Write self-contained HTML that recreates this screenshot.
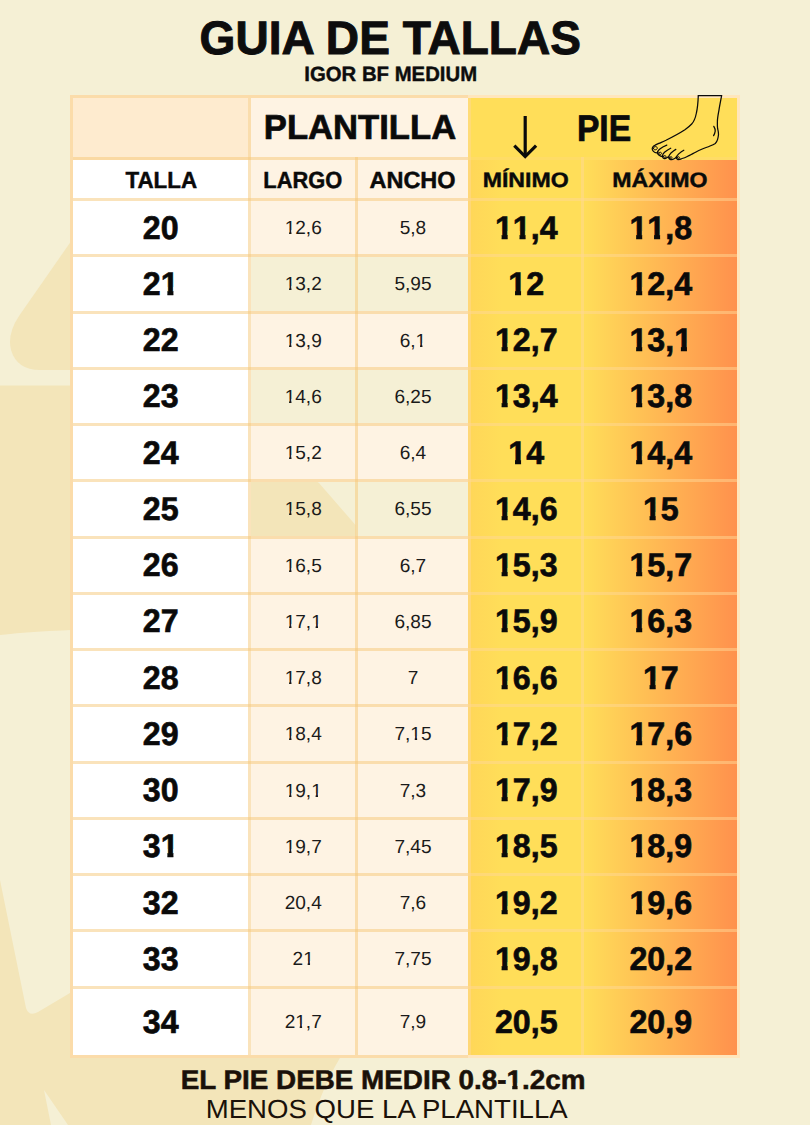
<!DOCTYPE html>
<html><head><meta charset="utf-8"><title>Guia de tallas</title>
<style>
html,body{margin:0;padding:0}
body{width:810px;height:1125px;position:relative;overflow:hidden;background:#f5f0d5;font-family:"Liberation Sans",sans-serif;}
.c{position:absolute}
.t{position:absolute;left:0;white-space:pre;line-height:1;transform-origin:0 0;text-rendering:geometricPrecision;font-family:"Liberation Sans",sans-serif;}
.b{font-weight:700;-webkit-text-stroke:0.02em currentColor}.r{font-weight:400}.n{font-kerning:none}.t i{font-style:normal;display:inline-block}.r i{clip-path:polygon(-5% -5%,105% -5%,105% 58%,64.5% 58%,64.5% 120%,41.8% 120%,41.8% 58%,-5% 58%)}.b i{clip-path:polygon(-5% -5%,105% -5%,105% 58%,71.2% 58%,71.2% 120%,37.4% 120%,37.4% 58%,-5% 58%)}
</style></head><body>
<svg class="c" style="left:0;top:0" width="810" height="1125" viewBox="0 0 810 1125">
<g fill="#f3e5b9">
<path d="M74 237 L19 316 Q7 334 11 350 Q17 370 40 370 L240 370 L240 237 Z"/>
<path d="M0 385.5 L205 385.5 L245 428 L319 483 L355.5 525 L355.5 600 L240 626 Q60 628 0 635 Z"/>
<path d="M0 880 L26 1008 Q29 1017 38 1012 L75 990 L345 1050 Q325 1080 311 1125 L68 1125 L44 1090 L51 1125 L0 1125 Z"/>

</g></svg>
<div class="c" style="left:73.00px;top:98.00px;width:178.00px;height:62.00px;background:#feebcf"></div>
<div class="c" style="left:248.00px;top:98.00px;width:219.50px;height:62.00px;background:#fef3e3"></div>
<div class="c" style="left:467.50px;top:98.00px;width:269.50px;height:62.00px;background:#ffde59"></div>
<div class="c" style="left:73.00px;top:160.00px;width:178.00px;height:41.00px;background:#ffffff"></div>
<div class="c" style="left:251.00px;top:160.00px;width:216.50px;height:41.00px;background:#fef3e3"></div>
<div class="c" style="left:467.50px;top:160.00px;width:115.00px;height:41.00px;background:linear-gradient(90deg,#ffd658 0%,#ffde59 30%,#ffde59 100%)"></div>
<div class="c" style="left:582.50px;top:160.00px;width:154.50px;height:41.00px;background:linear-gradient(90deg,#ffde59 0%,#ff914d 100%)"></div>
<div class="c" style="left:73.00px;top:198.00px;width:178.00px;height:59.25px;background:#ffffff"></div>
<div class="c" style="left:251.00px;top:198.00px;width:216.50px;height:59.25px;background:#fef3e3"></div>
<div class="c" style="left:467.50px;top:198.00px;width:115.00px;height:59.25px;background:linear-gradient(90deg,#ffd658 0%,#ffde59 30%,#ffde59 100%)"></div>
<div class="c" style="left:582.50px;top:198.00px;width:154.50px;height:59.25px;background:linear-gradient(90deg,#ffde59 0%,#ff914d 100%)"></div>
<div class="c" style="left:73.00px;top:254.25px;width:178.00px;height:59.25px;background:#ffffff"></div>
<div class="c" style="left:467.50px;top:254.25px;width:115.00px;height:59.25px;background:linear-gradient(90deg,#ffd658 0%,#ffde59 30%,#ffde59 100%)"></div>
<div class="c" style="left:582.50px;top:254.25px;width:154.50px;height:59.25px;background:linear-gradient(90deg,#ffde59 0%,#ff914d 100%)"></div>
<div class="c" style="left:73.00px;top:310.50px;width:178.00px;height:59.25px;background:#ffffff"></div>
<div class="c" style="left:251.00px;top:310.50px;width:216.50px;height:59.25px;background:#fef3e3"></div>
<div class="c" style="left:467.50px;top:310.50px;width:115.00px;height:59.25px;background:linear-gradient(90deg,#ffd658 0%,#ffde59 30%,#ffde59 100%)"></div>
<div class="c" style="left:582.50px;top:310.50px;width:154.50px;height:59.25px;background:linear-gradient(90deg,#ffde59 0%,#ff914d 100%)"></div>
<div class="c" style="left:73.00px;top:366.75px;width:178.00px;height:59.25px;background:#ffffff"></div>
<div class="c" style="left:467.50px;top:366.75px;width:115.00px;height:59.25px;background:linear-gradient(90deg,#ffd658 0%,#ffde59 30%,#ffde59 100%)"></div>
<div class="c" style="left:582.50px;top:366.75px;width:154.50px;height:59.25px;background:linear-gradient(90deg,#ffde59 0%,#ff914d 100%)"></div>
<div class="c" style="left:73.00px;top:423.00px;width:178.00px;height:59.25px;background:#ffffff"></div>
<div class="c" style="left:251.00px;top:423.00px;width:216.50px;height:59.25px;background:#fef3e3"></div>
<div class="c" style="left:467.50px;top:423.00px;width:115.00px;height:59.25px;background:linear-gradient(90deg,#ffd658 0%,#ffde59 30%,#ffde59 100%)"></div>
<div class="c" style="left:582.50px;top:423.00px;width:154.50px;height:59.25px;background:linear-gradient(90deg,#ffde59 0%,#ff914d 100%)"></div>
<div class="c" style="left:73.00px;top:479.25px;width:178.00px;height:59.25px;background:#ffffff"></div>
<div class="c" style="left:467.50px;top:479.25px;width:115.00px;height:59.25px;background:linear-gradient(90deg,#ffd658 0%,#ffde59 30%,#ffde59 100%)"></div>
<div class="c" style="left:582.50px;top:479.25px;width:154.50px;height:59.25px;background:linear-gradient(90deg,#ffde59 0%,#ff914d 100%)"></div>
<div class="c" style="left:73.00px;top:535.50px;width:178.00px;height:59.25px;background:#ffffff"></div>
<div class="c" style="left:251.00px;top:535.50px;width:216.50px;height:59.25px;background:#fef3e3"></div>
<div class="c" style="left:467.50px;top:535.50px;width:115.00px;height:59.25px;background:linear-gradient(90deg,#ffd658 0%,#ffde59 30%,#ffde59 100%)"></div>
<div class="c" style="left:582.50px;top:535.50px;width:154.50px;height:59.25px;background:linear-gradient(90deg,#ffde59 0%,#ff914d 100%)"></div>
<div class="c" style="left:73.00px;top:591.75px;width:178.00px;height:59.25px;background:#ffffff"></div>
<div class="c" style="left:251.00px;top:591.75px;width:216.50px;height:59.25px;background:#fef3e3"></div>
<div class="c" style="left:467.50px;top:591.75px;width:115.00px;height:59.25px;background:linear-gradient(90deg,#ffd658 0%,#ffde59 30%,#ffde59 100%)"></div>
<div class="c" style="left:582.50px;top:591.75px;width:154.50px;height:59.25px;background:linear-gradient(90deg,#ffde59 0%,#ff914d 100%)"></div>
<div class="c" style="left:73.00px;top:648.00px;width:178.00px;height:59.25px;background:#ffffff"></div>
<div class="c" style="left:251.00px;top:648.00px;width:216.50px;height:59.25px;background:#fef3e3"></div>
<div class="c" style="left:467.50px;top:648.00px;width:115.00px;height:59.25px;background:linear-gradient(90deg,#ffd658 0%,#ffde59 30%,#ffde59 100%)"></div>
<div class="c" style="left:582.50px;top:648.00px;width:154.50px;height:59.25px;background:linear-gradient(90deg,#ffde59 0%,#ff914d 100%)"></div>
<div class="c" style="left:73.00px;top:704.25px;width:178.00px;height:59.25px;background:#ffffff"></div>
<div class="c" style="left:251.00px;top:704.25px;width:216.50px;height:59.25px;background:#fef3e3"></div>
<div class="c" style="left:467.50px;top:704.25px;width:115.00px;height:59.25px;background:linear-gradient(90deg,#ffd658 0%,#ffde59 30%,#ffde59 100%)"></div>
<div class="c" style="left:582.50px;top:704.25px;width:154.50px;height:59.25px;background:linear-gradient(90deg,#ffde59 0%,#ff914d 100%)"></div>
<div class="c" style="left:73.00px;top:760.50px;width:178.00px;height:59.25px;background:#ffffff"></div>
<div class="c" style="left:251.00px;top:760.50px;width:216.50px;height:59.25px;background:#fef3e3"></div>
<div class="c" style="left:467.50px;top:760.50px;width:115.00px;height:59.25px;background:linear-gradient(90deg,#ffd658 0%,#ffde59 30%,#ffde59 100%)"></div>
<div class="c" style="left:582.50px;top:760.50px;width:154.50px;height:59.25px;background:linear-gradient(90deg,#ffde59 0%,#ff914d 100%)"></div>
<div class="c" style="left:73.00px;top:816.75px;width:178.00px;height:59.25px;background:#ffffff"></div>
<div class="c" style="left:251.00px;top:816.75px;width:216.50px;height:59.25px;background:#fef3e3"></div>
<div class="c" style="left:467.50px;top:816.75px;width:115.00px;height:59.25px;background:linear-gradient(90deg,#ffd658 0%,#ffde59 30%,#ffde59 100%)"></div>
<div class="c" style="left:582.50px;top:816.75px;width:154.50px;height:59.25px;background:linear-gradient(90deg,#ffde59 0%,#ff914d 100%)"></div>
<div class="c" style="left:73.00px;top:873.00px;width:178.00px;height:59.25px;background:#ffffff"></div>
<div class="c" style="left:251.00px;top:873.00px;width:216.50px;height:59.25px;background:#fef3e3"></div>
<div class="c" style="left:467.50px;top:873.00px;width:115.00px;height:59.25px;background:linear-gradient(90deg,#ffd658 0%,#ffde59 30%,#ffde59 100%)"></div>
<div class="c" style="left:582.50px;top:873.00px;width:154.50px;height:59.25px;background:linear-gradient(90deg,#ffde59 0%,#ff914d 100%)"></div>
<div class="c" style="left:73.00px;top:929.25px;width:178.00px;height:59.25px;background:#ffffff"></div>
<div class="c" style="left:251.00px;top:929.25px;width:216.50px;height:59.25px;background:#fef3e3"></div>
<div class="c" style="left:467.50px;top:929.25px;width:115.00px;height:59.25px;background:linear-gradient(90deg,#ffd658 0%,#ffde59 30%,#ffde59 100%)"></div>
<div class="c" style="left:582.50px;top:929.25px;width:154.50px;height:59.25px;background:linear-gradient(90deg,#ffde59 0%,#ff914d 100%)"></div>
<div class="c" style="left:73.00px;top:985.50px;width:178.00px;height:69.50px;background:#ffffff"></div>
<div class="c" style="left:251.00px;top:985.50px;width:216.50px;height:69.50px;background:#fef3e3"></div>
<div class="c" style="left:467.50px;top:985.50px;width:115.00px;height:69.50px;background:linear-gradient(90deg,#ffd658 0%,#ffde59 30%,#ffde59 100%)"></div>
<div class="c" style="left:582.50px;top:985.50px;width:154.50px;height:69.50px;background:linear-gradient(90deg,#ffde59 0%,#ff914d 100%)"></div>
<div class="c" style="left:73.00px;top:157.00px;width:394.50px;height:3.00px;background:rgba(246,200,120,0.5)"></div>
<div class="c" style="left:467.50px;top:157.00px;width:269.50px;height:3.00px;background:rgba(255,215,150,0.22)"></div>
<div class="c" style="left:73.00px;top:198.00px;width:394.50px;height:3.00px;background:rgba(246,200,120,0.5)"></div>
<div class="c" style="left:467.50px;top:198.00px;width:269.50px;height:3.00px;background:rgba(255,215,150,0.5)"></div>
<div class="c" style="left:73.00px;top:254.25px;width:394.50px;height:3.00px;background:rgba(246,200,120,0.5)"></div>
<div class="c" style="left:467.50px;top:254.25px;width:269.50px;height:3.00px;background:rgba(255,215,150,0.5)"></div>
<div class="c" style="left:73.00px;top:310.50px;width:394.50px;height:3.00px;background:rgba(246,200,120,0.5)"></div>
<div class="c" style="left:467.50px;top:310.50px;width:269.50px;height:3.00px;background:rgba(255,215,150,0.5)"></div>
<div class="c" style="left:73.00px;top:366.75px;width:394.50px;height:3.00px;background:rgba(246,200,120,0.5)"></div>
<div class="c" style="left:467.50px;top:366.75px;width:269.50px;height:3.00px;background:rgba(255,215,150,0.5)"></div>
<div class="c" style="left:73.00px;top:423.00px;width:394.50px;height:3.00px;background:rgba(246,200,120,0.5)"></div>
<div class="c" style="left:467.50px;top:423.00px;width:269.50px;height:3.00px;background:rgba(255,215,150,0.5)"></div>
<div class="c" style="left:73.00px;top:479.25px;width:394.50px;height:3.00px;background:rgba(246,200,120,0.5)"></div>
<div class="c" style="left:467.50px;top:479.25px;width:269.50px;height:3.00px;background:rgba(255,215,150,0.5)"></div>
<div class="c" style="left:73.00px;top:535.50px;width:394.50px;height:3.00px;background:rgba(246,200,120,0.5)"></div>
<div class="c" style="left:467.50px;top:535.50px;width:269.50px;height:3.00px;background:rgba(255,215,150,0.5)"></div>
<div class="c" style="left:73.00px;top:591.75px;width:394.50px;height:3.00px;background:rgba(246,200,120,0.5)"></div>
<div class="c" style="left:467.50px;top:591.75px;width:269.50px;height:3.00px;background:rgba(255,215,150,0.5)"></div>
<div class="c" style="left:73.00px;top:648.00px;width:394.50px;height:3.00px;background:rgba(246,200,120,0.5)"></div>
<div class="c" style="left:467.50px;top:648.00px;width:269.50px;height:3.00px;background:rgba(255,215,150,0.5)"></div>
<div class="c" style="left:73.00px;top:704.25px;width:394.50px;height:3.00px;background:rgba(246,200,120,0.5)"></div>
<div class="c" style="left:467.50px;top:704.25px;width:269.50px;height:3.00px;background:rgba(255,215,150,0.5)"></div>
<div class="c" style="left:73.00px;top:760.50px;width:394.50px;height:3.00px;background:rgba(246,200,120,0.5)"></div>
<div class="c" style="left:467.50px;top:760.50px;width:269.50px;height:3.00px;background:rgba(255,215,150,0.5)"></div>
<div class="c" style="left:73.00px;top:816.75px;width:394.50px;height:3.00px;background:rgba(246,200,120,0.5)"></div>
<div class="c" style="left:467.50px;top:816.75px;width:269.50px;height:3.00px;background:rgba(255,215,150,0.5)"></div>
<div class="c" style="left:73.00px;top:873.00px;width:394.50px;height:3.00px;background:rgba(246,200,120,0.5)"></div>
<div class="c" style="left:467.50px;top:873.00px;width:269.50px;height:3.00px;background:rgba(255,215,150,0.5)"></div>
<div class="c" style="left:73.00px;top:929.25px;width:394.50px;height:3.00px;background:rgba(246,200,120,0.5)"></div>
<div class="c" style="left:467.50px;top:929.25px;width:269.50px;height:3.00px;background:rgba(255,215,150,0.5)"></div>
<div class="c" style="left:73.00px;top:985.50px;width:394.50px;height:3.00px;background:rgba(246,200,120,0.5)"></div>
<div class="c" style="left:467.50px;top:985.50px;width:269.50px;height:3.00px;background:rgba(255,215,150,0.5)"></div>
<div class="c" style="left:248.00px;top:98.00px;width:3.00px;height:957.00px;background:rgba(246,200,120,0.5)"></div>
<div class="c" style="left:355.00px;top:157.00px;width:3.00px;height:898.00px;background:rgba(246,200,120,0.5)"></div>
<div class="c" style="left:467.50px;top:98.00px;width:3.00px;height:957.00px;background:rgba(255,215,150,0.5)"></div>
<div class="c" style="left:581.00px;top:157.00px;width:3.00px;height:898.00px;background:rgba(255,215,150,0.5)"></div>
<div class="c" style="left:70.00px;top:95.00px;width:397.50px;height:3.00px;background:#fbdcaa"></div>
<div class="c" style="left:467.50px;top:95.00px;width:272.50px;height:3.00px;background:#ffe6bc"></div>
<div class="c" style="left:70.00px;top:1055.00px;width:397.50px;height:3.00px;background:#fbdcaa"></div>
<div class="c" style="left:467.50px;top:1055.00px;width:272.50px;height:3.00px;background:#ffe6bc"></div>
<div class="c" style="left:70.00px;top:98.00px;width:3.00px;height:957.00px;background:#fbdcaa"></div>
<div class="c" style="left:737.00px;top:98.00px;width:3.00px;height:957.00px;background:#ffe6bc"></div>
<svg class="c" style="left:0;top:0" width="810" height="1125" viewBox="0 0 810 1125" fill="none" stroke="#0a0a0a">
<path d="M525.2 116 V156" stroke-width="3.2"/>
<path d="M514.3 145.6 L525.2 156.6 L536.1 145.6" stroke-width="3.2" stroke-linejoin="miter"/>
<g stroke-width="1.25" stroke-linecap="round" stroke-linejoin="round">
<path d="M698.3 95.7 H721.6"/>
<path d="M698.3 95.7 C698 103 697.3 109 696.4 113 C695.6 117 694.6 121 691.7 124 C689.5 126.3 687 128.3 684.9 129.8 C680 133 672 137.3 666 140.3 C663 141.7 660.8 142.5 658.8 143.4 C657 144.2 655.5 144.9 654.2 145.7"/>
<path d="M721.6 95.7 C720.6 101 719.6 106 719 109.8 C718.3 114 717.4 118 717.4 121.4 C717.4 124 717.2 126 717.6 128.5 C718.2 131 718.7 132.5 718.5 134.5 C718.3 136.5 718 138 717.6 139.4 C717 141.4 716.3 142.6 715.3 143.4 C713.5 144.6 712 145.2 710 146 C707 147.2 704 148.2 701.7 149.2 C698.5 150.6 696 152 693.3 153.4 C691 154.6 689 155.8 687.8 156.2 C685.8 157.2 684 158 682.1 158.5 C681 158.9 680 159.4 679.2 159.5"/>
<path d="M713.8 126.4 C715 128.3 715.4 129.8 715.2 131.2 C715 132.8 714.4 134.3 713.6 135.6"/>
<!-- big toe -->
<path d="M654.2 145.7 C652.8 146.5 652.2 147.4 652.2 148.6 C652.2 149.8 652.6 150.7 653.4 151.4 C654.3 152.2 655.4 152.8 656.6 152.9 C657.2 152.9 657.6 152.4 657.7 151.6"/>
<path d="M653.5 148.3 C653.6 147.2 654.6 146.5 655.7 146.6 C656.8 146.7 657.5 147.5 657.3 148.4 C657.1 149.3 656.1 149.9 655 149.8 C654 149.7 653.4 149.1 653.5 148.3 Z" stroke-width="1"/>
<!-- toe 2 -->
<path d="M666.8 145.1 C664.5 146 662 147.4 660.2 148.8 C658.8 150 657.9 150.8 657.7 151.6 C657.3 152.8 657.8 154.2 658.8 155 C659.8 155.8 661 156.6 662.3 156.7 C662.6 156.2 662.6 155.9 662.5 155.6"/>
<path d="M658.9 152.9 C659.5 152.1 660.6 152 661.2 152.6 C661.8 153.3 661.5 154.2 660.6 154.5 C659.7 154.8 658.7 154 658.9 152.9 Z" stroke-width="1"/>
<!-- toe 3 -->
<path d="M670.7 148.2 C668.5 149.2 666.2 150.8 664.5 152.2 C663.3 153.4 662.6 154.5 662.5 155.6 C662.4 156.8 663 158 663.9 158.5 C664.9 158.9 666.2 158.3 666.8 157.6 C667.6 157.4 668.4 157.1 668.7 156.8"/>
<path d="M663.6 156.2 C664.2 155.4 665.3 155.4 665.8 156.1 C666.3 156.9 665.9 157.6 665.1 157.8 C664.2 158 663.4 157.2 663.6 156.2 Z" stroke-width="1"/>
<!-- toe 4 -->
<path d="M675.8 149.4 C674 150.4 672.2 152 670.7 153.3 C669.6 154.5 668.8 155.7 668.7 156.8 C668.6 158 669.4 159.2 670.7 159.6 C671.8 159.8 673 159.5 673.6 159 C674.8 158.5 675.8 157.6 676.4 156.8"/>
<path d="M669.9 157.3 C670.5 156.6 671.5 156.6 672 157.3 C672.4 158 672 158.7 671.2 158.9 C670.4 159 669.7 158.3 669.9 157.3 Z" stroke-width="1"/>
<!-- toe 5 -->
<path d="M683.8 150.2 C682 151.2 680.2 152.6 678.7 153.9 C677.6 155 676.6 156 676.4 156.8 C676.2 158 677 159.2 678 159.6 C678.4 159.7 678.8 159.6 679.2 159.5"/>
<path d="M677.5 157.2 C678.1 156.5 679 156.6 679.4 157.2 C679.8 157.9 679.4 158.5 678.7 158.7 C678 158.8 677.3 158.1 677.5 157.2 Z" stroke-width="1"/>
</g>
</svg>

<span class="t b" style="top:15px;font-size:46.89px;color:#0d0d0d;transform:translateX(199.58px) scaleX(0.9829)">GUIA DE TALLAS</span>
<span class="t b" style="top:65px;font-size:20.64px;color:#0d0d0d;transform:translateX(304.32px) scaleX(0.9855)">IGOR BF MEDIUM</span>
<span class="t b" style="top:111px;font-size:34.66px;color:#0a0a0a;transform:translateX(263.80px) scaleX(0.9993)">PLANTILLA</span>
<span class="t b" style="top:111px;font-size:36.92px;color:#0a0a0a;transform:translateX(576.90px) scaleX(0.9112)">PIE</span>
<span class="t b" style="top:169px;font-size:23.41px;color:#0a0a0a;transform:translateX(125.45px) scaleX(0.9552)">TALLA</span>
<span class="t b" style="top:169px;font-size:23.41px;color:#0a0a0a;transform:translateX(263.28px) scaleX(0.9340)">LARGO</span>
<span class="t b" style="top:169px;font-size:23.41px;color:#0a0a0a;transform:translateX(369.50px) scaleX(1.0028)">ANCHO</span>
<span class="t b" style="top:171px;font-size:20.93px;color:#0a0a0a;transform:translateX(482.63px) scaleX(1.1057)">MÍNIMO</span>
<span class="t b" style="top:171px;font-size:20.93px;color:#0a0a0a;transform:translateX(612.29px) scaleX(1.1064)">MÁXIMO</span>
<span class="t b" style="top:1067px;font-size:27.00px;color:#1a1109;transform:translateX(180.63px) scaleX(1.0309)">EL PIE DEBE MEDIR 0.8-<i>1</i>.2cm</span>
<span class="t r" style="top:1096px;font-size:26.26px;color:#1a1109;transform:translateX(205.73px) scaleX(1.0512)">MENOS QUE LA PLANTILLA</span>
<span class="t b n" style="top:212px;font-size:32.69px;color:#0a0a0a;transform:translateX(142.79px) scaleX(0.9850)">20</span>
<span class="t r n" style="top:219px;font-size:19.07px;color:#1a1a1a;transform:translateX(284.64px) scaleX(1.0000)"><i>1</i>2,6</span>
<span class="t r n" style="top:219px;font-size:19.07px;color:#1a1a1a;transform:translateX(399.70px) scaleX(1.0000)">5,8</span>
<span class="t b n" style="top:212px;font-size:32.69px;color:#0a0a0a;transform:translateX(494.91px) scaleX(0.9850)"><i>1</i><i>1</i>,4</span>
<span class="t b n" style="top:212px;font-size:32.69px;color:#0a0a0a;transform:translateX(629.46px) scaleX(0.9850)"><i>1</i><i>1</i>,8</span>
<span class="t b n" style="top:268px;font-size:32.69px;color:#0a0a0a;transform:translateX(142.79px) scaleX(0.9850)">2<i>1</i></span>
<span class="t r n" style="top:275px;font-size:19.07px;color:#1a1a1a;transform:translateX(284.64px) scaleX(1.0000)"><i>1</i>3,2</span>
<span class="t r n" style="top:275px;font-size:19.07px;color:#1a1a1a;transform:translateX(394.39px) scaleX(1.0000)">5,95</span>
<span class="t b n" style="top:268px;font-size:32.69px;color:#0a0a0a;transform:translateX(508.34px) scaleX(0.9850)"><i>1</i>2</span>
<span class="t b n" style="top:268px;font-size:32.69px;color:#0a0a0a;transform:translateX(629.46px) scaleX(0.9850)"><i>1</i>2,4</span>
<span class="t b n" style="top:324px;font-size:32.69px;color:#0a0a0a;transform:translateX(142.79px) scaleX(0.9850)">22</span>
<span class="t r n" style="top:332px;font-size:19.07px;color:#1a1a1a;transform:translateX(284.64px) scaleX(1.0000)"><i>1</i>3,9</span>
<span class="t r n" style="top:332px;font-size:19.07px;color:#1a1a1a;transform:translateX(399.70px) scaleX(1.0000)">6,<i>1</i></span>
<span class="t b n" style="top:324px;font-size:32.69px;color:#0a0a0a;transform:translateX(494.91px) scaleX(0.9850)"><i>1</i>2,7</span>
<span class="t b n" style="top:324px;font-size:32.69px;color:#0a0a0a;transform:translateX(629.46px) scaleX(0.9850)"><i>1</i>3,<i>1</i></span>
<span class="t b n" style="top:380px;font-size:32.69px;color:#0a0a0a;transform:translateX(142.79px) scaleX(0.9850)">23</span>
<span class="t r n" style="top:388px;font-size:19.07px;color:#1a1a1a;transform:translateX(284.64px) scaleX(1.0000)"><i>1</i>4,6</span>
<span class="t r n" style="top:388px;font-size:19.07px;color:#1a1a1a;transform:translateX(394.39px) scaleX(1.0000)">6,25</span>
<span class="t b n" style="top:380px;font-size:32.69px;color:#0a0a0a;transform:translateX(494.91px) scaleX(0.9850)"><i>1</i>3,4</span>
<span class="t b n" style="top:380px;font-size:32.69px;color:#0a0a0a;transform:translateX(629.46px) scaleX(0.9850)"><i>1</i>3,8</span>
<span class="t b n" style="top:437px;font-size:32.69px;color:#0a0a0a;transform:translateX(142.79px) scaleX(0.9850)">24</span>
<span class="t r n" style="top:444px;font-size:19.07px;color:#1a1a1a;transform:translateX(284.64px) scaleX(1.0000)"><i>1</i>5,2</span>
<span class="t r n" style="top:444px;font-size:19.07px;color:#1a1a1a;transform:translateX(399.70px) scaleX(1.0000)">6,4</span>
<span class="t b n" style="top:437px;font-size:32.69px;color:#0a0a0a;transform:translateX(508.34px) scaleX(0.9850)"><i>1</i>4</span>
<span class="t b n" style="top:437px;font-size:32.69px;color:#0a0a0a;transform:translateX(629.46px) scaleX(0.9850)"><i>1</i>4,4</span>
<span class="t b n" style="top:493px;font-size:32.69px;color:#0a0a0a;transform:translateX(142.79px) scaleX(0.9850)">25</span>
<span class="t r n" style="top:500px;font-size:19.07px;color:#1a1a1a;transform:translateX(284.64px) scaleX(1.0000)"><i>1</i>5,8</span>
<span class="t r n" style="top:500px;font-size:19.07px;color:#1a1a1a;transform:translateX(394.39px) scaleX(1.0000)">6,55</span>
<span class="t b n" style="top:493px;font-size:32.69px;color:#0a0a0a;transform:translateX(494.91px) scaleX(0.9850)"><i>1</i>4,6</span>
<span class="t b n" style="top:493px;font-size:32.69px;color:#0a0a0a;transform:translateX(642.89px) scaleX(0.9850)"><i>1</i>5</span>
<span class="t b n" style="top:549px;font-size:32.69px;color:#0a0a0a;transform:translateX(142.79px) scaleX(0.9850)">26</span>
<span class="t r n" style="top:557px;font-size:19.07px;color:#1a1a1a;transform:translateX(284.64px) scaleX(1.0000)"><i>1</i>6,5</span>
<span class="t r n" style="top:557px;font-size:19.07px;color:#1a1a1a;transform:translateX(399.70px) scaleX(1.0000)">6,7</span>
<span class="t b n" style="top:549px;font-size:32.69px;color:#0a0a0a;transform:translateX(494.91px) scaleX(0.9850)"><i>1</i>5,3</span>
<span class="t b n" style="top:549px;font-size:32.69px;color:#0a0a0a;transform:translateX(629.46px) scaleX(0.9850)"><i>1</i>5,7</span>
<span class="t b n" style="top:605px;font-size:32.69px;color:#0a0a0a;transform:translateX(142.79px) scaleX(0.9850)">27</span>
<span class="t r n" style="top:613px;font-size:19.07px;color:#1a1a1a;transform:translateX(284.64px) scaleX(1.0000)"><i>1</i>7,<i>1</i></span>
<span class="t r n" style="top:613px;font-size:19.07px;color:#1a1a1a;transform:translateX(394.39px) scaleX(1.0000)">6,85</span>
<span class="t b n" style="top:605px;font-size:32.69px;color:#0a0a0a;transform:translateX(494.91px) scaleX(0.9850)"><i>1</i>5,9</span>
<span class="t b n" style="top:605px;font-size:32.69px;color:#0a0a0a;transform:translateX(629.46px) scaleX(0.9850)"><i>1</i>6,3</span>
<span class="t b n" style="top:662px;font-size:32.69px;color:#0a0a0a;transform:translateX(142.79px) scaleX(0.9850)">28</span>
<span class="t r n" style="top:669px;font-size:19.07px;color:#1a1a1a;transform:translateX(284.64px) scaleX(1.0000)"><i>1</i>7,8</span>
<span class="t r n" style="top:669px;font-size:19.07px;color:#1a1a1a;transform:translateX(407.65px) scaleX(1.0000)">7</span>
<span class="t b n" style="top:662px;font-size:32.69px;color:#0a0a0a;transform:translateX(494.91px) scaleX(0.9850)"><i>1</i>6,6</span>
<span class="t b n" style="top:662px;font-size:32.69px;color:#0a0a0a;transform:translateX(642.89px) scaleX(0.9850)"><i>1</i>7</span>
<span class="t b n" style="top:718px;font-size:32.69px;color:#0a0a0a;transform:translateX(142.79px) scaleX(0.9850)">29</span>
<span class="t r n" style="top:725px;font-size:19.07px;color:#1a1a1a;transform:translateX(284.64px) scaleX(1.0000)"><i>1</i>8,4</span>
<span class="t r n" style="top:725px;font-size:19.07px;color:#1a1a1a;transform:translateX(394.39px) scaleX(1.0000)">7,<i>1</i>5</span>
<span class="t b n" style="top:718px;font-size:32.69px;color:#0a0a0a;transform:translateX(494.91px) scaleX(0.9850)"><i>1</i>7,2</span>
<span class="t b n" style="top:718px;font-size:32.69px;color:#0a0a0a;transform:translateX(629.46px) scaleX(0.9850)"><i>1</i>7,6</span>
<span class="t b n" style="top:774px;font-size:32.69px;color:#0a0a0a;transform:translateX(142.79px) scaleX(0.9850)">30</span>
<span class="t r n" style="top:782px;font-size:19.07px;color:#1a1a1a;transform:translateX(284.64px) scaleX(1.0000)"><i>1</i>9,<i>1</i></span>
<span class="t r n" style="top:782px;font-size:19.07px;color:#1a1a1a;transform:translateX(399.70px) scaleX(1.0000)">7,3</span>
<span class="t b n" style="top:774px;font-size:32.69px;color:#0a0a0a;transform:translateX(494.91px) scaleX(0.9850)"><i>1</i>7,9</span>
<span class="t b n" style="top:774px;font-size:32.69px;color:#0a0a0a;transform:translateX(629.46px) scaleX(0.9850)"><i>1</i>8,3</span>
<span class="t b n" style="top:830px;font-size:32.69px;color:#0a0a0a;transform:translateX(142.79px) scaleX(0.9850)">3<i>1</i></span>
<span class="t r n" style="top:838px;font-size:19.07px;color:#1a1a1a;transform:translateX(284.64px) scaleX(1.0000)"><i>1</i>9,7</span>
<span class="t r n" style="top:838px;font-size:19.07px;color:#1a1a1a;transform:translateX(394.39px) scaleX(1.0000)">7,45</span>
<span class="t b n" style="top:830px;font-size:32.69px;color:#0a0a0a;transform:translateX(494.91px) scaleX(0.9850)"><i>1</i>8,5</span>
<span class="t b n" style="top:830px;font-size:32.69px;color:#0a0a0a;transform:translateX(629.46px) scaleX(0.9850)"><i>1</i>8,9</span>
<span class="t b n" style="top:887px;font-size:32.69px;color:#0a0a0a;transform:translateX(142.79px) scaleX(0.9850)">32</span>
<span class="t r n" style="top:894px;font-size:19.07px;color:#1a1a1a;transform:translateX(284.64px) scaleX(1.0000)">20,4</span>
<span class="t r n" style="top:894px;font-size:19.07px;color:#1a1a1a;transform:translateX(399.70px) scaleX(1.0000)">7,6</span>
<span class="t b n" style="top:887px;font-size:32.69px;color:#0a0a0a;transform:translateX(494.91px) scaleX(0.9850)"><i>1</i>9,2</span>
<span class="t b n" style="top:887px;font-size:32.69px;color:#0a0a0a;transform:translateX(629.46px) scaleX(0.9850)"><i>1</i>9,6</span>
<span class="t b n" style="top:943px;font-size:32.69px;color:#0a0a0a;transform:translateX(142.79px) scaleX(0.9850)">33</span>
<span class="t r n" style="top:950px;font-size:19.07px;color:#1a1a1a;transform:translateX(292.60px) scaleX(1.0000)">2<i>1</i></span>
<span class="t r n" style="top:950px;font-size:19.07px;color:#1a1a1a;transform:translateX(394.39px) scaleX(1.0000)">7,75</span>
<span class="t b n" style="top:943px;font-size:32.69px;color:#0a0a0a;transform:translateX(494.91px) scaleX(0.9850)"><i>1</i>9,8</span>
<span class="t b n" style="top:943px;font-size:32.69px;color:#0a0a0a;transform:translateX(629.46px) scaleX(0.9850)">20,2</span>
<span class="t b n" style="top:1006px;font-size:32.69px;color:#0a0a0a;transform:translateX(142.79px) scaleX(0.9850)">34</span>
<span class="t r n" style="top:1013px;font-size:19.07px;color:#1a1a1a;transform:translateX(284.64px) scaleX(1.0000)">2<i>1</i>,7</span>
<span class="t r n" style="top:1013px;font-size:19.07px;color:#1a1a1a;transform:translateX(399.70px) scaleX(1.0000)">7,9</span>
<span class="t b n" style="top:1006px;font-size:32.69px;color:#0a0a0a;transform:translateX(494.91px) scaleX(0.9850)">20,5</span>
<span class="t b n" style="top:1006px;font-size:32.69px;color:#0a0a0a;transform:translateX(629.46px) scaleX(0.9850)">20,9</span>
</body></html>
